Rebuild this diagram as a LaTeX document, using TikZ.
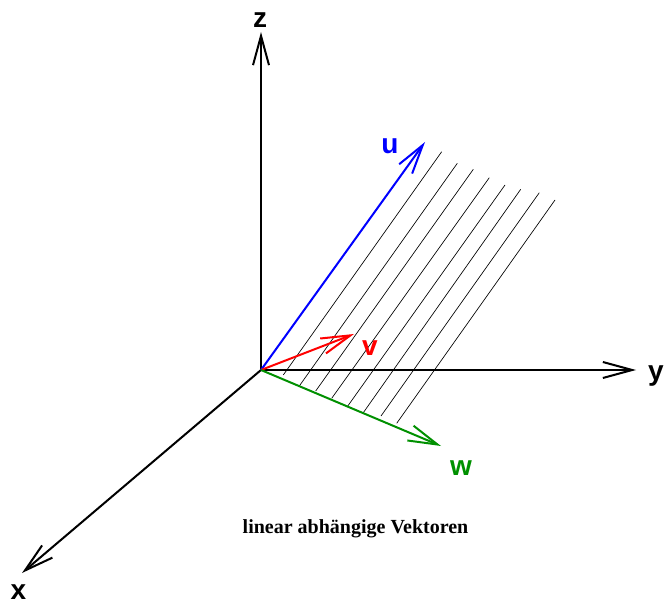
\documentclass[tikz,border=0pt]{standalone}
\usepackage{fontspec}
\setmainfont{Liberation Serif}
\setsansfont{Liberation Sans}
\usetikzlibrary{arrows.meta,calc}
\definecolor{vecu}{RGB}{0,0,255}
\definecolor{vecv}{RGB}{255,0,0}
\definecolor{vecw}{RGB}{0,144,0}
\tikzset{
  barb/.style={-{Straight Barb[length=22pt,width=12pt]}},
  axis/.style={barb,line width=1.5pt,black},
  vec/.style={barb,line width=1.5pt},
  hatch/.style={line width=0.5pt,black},
  lbl/.style={font=\sffamily\bfseries\fontsize{21}{21}\selectfont,inner sep=0pt},
}

\begin{document}
\begin{tikzpicture}[x=0.75pt,y=-0.75pt]
\useasboundingbox (0,0) rectangle (665,606);
% axes
\coordinate (O) at (261,370);
\coordinate (X) at (22,573);
\coordinate (Y) at (636,370);
\coordinate (Z) at (261,32);
% hatching of the plane
\foreach \bx/\by/\tx/\ty in {
283.3/375/441.7/151.7,
299.3/386/457.3/163.3,
315.7/391/473.3/169.3,
331.7/398.3/489.3/177.7,
347.3/406.7/505/185,
363.3/412.7/520.7/189.3,
381/416/539.3/192.7,
396.7/423.3/555/200}{
  \draw[hatch] (\bx,\by) -- (\tx,\ty);
}
\draw[axis] (O) -- (X);
\draw[axis] (O) -- (Y);
\draw[axis] (O) -- (Z);
% vectors
\coordinate (U) at (425,142);
\coordinate (V) at (354,334);
\coordinate (W) at (441,446);
\draw[vec,vecu] (O) -- (U);
\draw[vec,vecv] (O) -- (V);
\draw[vec,vecw] (O) -- (W);
% labels
\node[lbl] (xlab) at (18.5,592) {x};
\node[lbl] (ylab) at (656,376) {y};
\node[lbl] (zlab) at (260,20) {z};
\node[lbl,vecu] (ulab) at (390,146) {u};
\node[lbl,vecv] (vlab) at (370,348) {v};
\node[lbl,vecw] (wlab) at (461,468) {w};
\node[font=\rmfamily\bfseries\fontsize{15}{15}\selectfont,anchor=base,inner sep=0pt] (cap) at (355.5,533) {linear abhängige Vektoren};
\end{tikzpicture}
\end{document}
